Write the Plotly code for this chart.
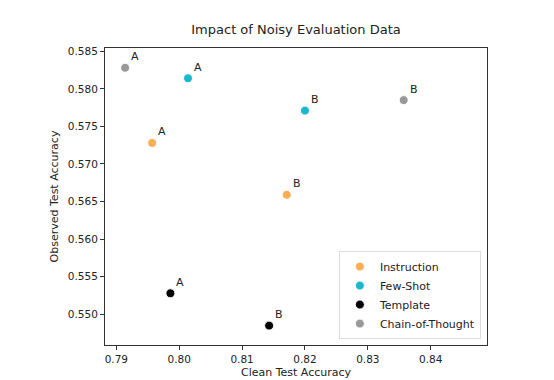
import plotly.graph_objects as go

methods = ["Instruction", "Few-Shot", "Template", "Chain-of-Thought"]
colors = ["#FDAE55", "#1BB8CC", "#000000", "#999999"]
labels = ["A", "B"]
clean_acc = {
    "Instruction": [0.7957, 0.8171],
    "Few-Shot": [0.8014, 0.8200],
    "Template": [0.7986, 0.8143],
    "Chain-of-Thought": [0.7914, 0.8357],
}
observed_acc = {
    "Instruction": [0.5728, 0.5659],
    "Few-Shot": [0.5814, 0.5771],
    "Template": [0.5528, 0.5485],
    "Chain-of-Thought": [0.5828, 0.5785],
}
x_ticks = [0.79, 0.80, 0.81, 0.82, 0.83, 0.84]
y_ticks = [0.550, 0.555, 0.560, 0.565, 0.570, 0.575, 0.580, 0.585]

FONT = "DejaVu Sans"
fig = go.Figure()
annotations = []
for m, c in zip(methods, colors):
    fig.add_trace(go.Scatter(
        x=clean_acc[m], y=observed_acc[m], mode="markers", name=m,
        marker=dict(color=c, size=9, line=dict(color="white", width=1)),
    ))
    for xv, yv, lab in zip(clean_acc[m], observed_acc[m], labels):
        annotations.append(dict(x=xv, y=yv, text=lab, showarrow=False,
                                xshift=10, yshift=11,
                                font=dict(family=FONT, size=11, color="#222")))

axis_common = dict(showline=True, linecolor="#333", linewidth=1, mirror=True,
                   ticks="outside", ticklen=4, tickcolor="#333", showgrid=False,
                   zeroline=False, tickfont=dict(family=FONT, size=10.5, color="#222"))

fig.update_layout(
    width=554, height=380,
    margin=dict(l=97, r=75, t=40, b=40),
    paper_bgcolor="white", plot_bgcolor="white",
    title=dict(text="Impact of Noisy Evaluation Data", x=(97 + 479) / 2 / 554,
               xanchor="center", y=1 - 21 / 380, yanchor="middle",
               font=dict(family=FONT, size=13, color="#222")),
    xaxis=dict(range=[0.7882, 0.84895], tickvals=x_ticks,
               ticktext=[f"{v:.2f}" for v in x_ticks],
               title=dict(text="Clean Test Accuracy", standoff=4,
                          font=dict(family=FONT, size=11, color="#222")),
               **axis_common),
    yaxis=dict(range=[0.54592, 0.58543], tickvals=y_ticks,
               ticktext=[f"{v:.3f}" for v in y_ticks],
               title=dict(text="Observed Test Accuracy", standoff=6,
                          font=dict(family=FONT, size=11, color="#222")),
               **axis_common),
    legend=dict(x=0.984, y=0.02, xanchor="right", yanchor="bottom",
                bgcolor="rgba(255,255,255,0.8)", bordercolor="#ddd", borderwidth=1,
                font=dict(family=FONT, size=11, color="#222"),
                itemwidth=30, tracegroupgap=0),
    annotations=annotations,
    showlegend=True,
)

fig.write_html("out.html")
